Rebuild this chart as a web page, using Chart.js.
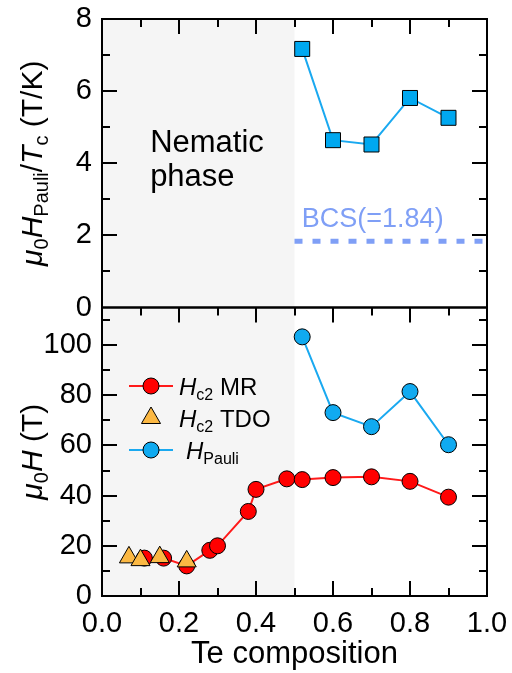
<!DOCTYPE html>
<html>
<head>
<meta charset="utf-8">
<script src="https://cdn.jsdelivr.net/npm/chart.js@4.4.1/dist/chart.umd.min.js"></script>
<style>
html,body{margin:0;padding:0;background:#fff;}
#wrap{width:512px;height:673px;position:relative;}
</style>
</head>
<body>
<div id="wrap"><canvas id="c" width="512" height="673"></canvas></div>
<script>
// ---- data ----
const teMR = [0.11, 0.16, 0.22, 0.28, 0.30, 0.38, 0.40, 0.48, 0.52, 0.60, 0.70, 0.80, 0.90];
const hc2MR = [15.1, 15.1, 12.0, 18.2, 20.0, 33.7, 42.5, 46.7, 46.4, 47.2, 47.5, 45.7, 39.4];
const teTDO = [0.07, 0.10, 0.15, 0.22];
const hc2TDO = [15.4, 14.3, 15.5, 13.8];
const tePauli = [0.52, 0.60, 0.70, 0.80, 0.90];
const hPauli = [103.3, 73.1, 67.5, 81.5, 60.3];
const pauliOverTc = [7.17, 4.64, 4.52, 5.81, 5.26];
const bcsRange = [0.5, 1.0];
const bcsValue = 1.84;
const nematicRange = [0.0, 0.5];
const xTickValues = [0.0, 0.2, 0.4, 0.6, 0.8, 1.0];

const FONT = '"Liberation Sans", Arial, Helvetica, sans-serif';
const pts = (xs, ys) => xs.map((x, i) => ({x, y: ys[i]}));

// ---- helpers ----
function f(size, italic){ return (italic ? 'italic ' : '') + size + 'px ' + FONT; }
function richWidth(ctx, segs){ let w = 0; for (const s of segs){ ctx.font = s.font; w += ctx.measureText(s.t).width; } return w; }
function drawRich(ctx, segs, x, y){
  for (const s of segs){ ctx.font = s.font; ctx.fillText(s.t, x, y + (s.dy || 0)); x += ctx.measureText(s.t).width; }
}

const panelPlugin = {
  id: 'panels',
  beforeDatasetsDraw(chart){
    const ctx = chart.ctx, xs = chart.scales.x;
    const ca = chart.chartArea;
    ctx.save();
    ctx.fillStyle = '#f5f5f5';
    const x0 = xs.getPixelForValue(nematicRange[0]), x1 = xs.getPixelForValue(nematicRange[1]);
    ctx.fillRect(x0, ca.top, x1 - x0, ca.bottom - ca.top);
    // annotations
    const yt = chart.scales.yTop;
    ctx.fillStyle = '#000';
    ctx.font = f(31);
    ctx.textBaseline = 'alphabetic';
    ctx.textAlign = 'left';
    ctx.fillText('Nematic', xs.getPixelForValue(0.125), yt.getPixelForValue(4.3));
    ctx.fillText('phase', xs.getPixelForValue(0.125), yt.getPixelForValue(3.36));
    ctx.fillStyle = '#7f9ff6';
    ctx.font = f(27);
    ctx.fillText('BCS(=1.84)', xs.getPixelForValue(0.519), yt.getPixelForValue(2.23));
    ctx.restore();
  },
  afterDraw(chart){
    const ctx = chart.ctx, xs = chart.scales.x;
    const yt = chart.scales.yTop, yb = chart.scales.yBot;
    const L = xs.left, R = xs.right;
    ctx.save();
    ctx.strokeStyle = '#000';
    ctx.lineWidth = 2;
    const MAJ = 15, MIN = 8;
    for (const [sc, step, majStep, topTicks, botTicks] of [[yt, 1, 2, true, false], [yb, 10, 20, true, true]]){
      const T = sc.top, B = sc.bottom;
      ctx.strokeRect(L, T, R - L, B - T);
      ctx.beginPath();
      for (let i = 0; sc.min + i * step <= sc.max + 1e-9; i++){
        const v = sc.min + i * step;
        const y = Math.round(sc.getPixelForValue(v));
        if (Math.abs(y - T) < 2 || Math.abs(y - B) < 2) continue;
        const len = (Math.round(v) % majStep === 0) ? MAJ : MIN;
        ctx.moveTo(L, y); ctx.lineTo(L + len, y);
        ctx.moveTo(R, y); ctx.lineTo(R - len, y);
      }
      for (let k = 1; k < 10; k++){
        const x = Math.round(xs.getPixelForValue(k / 10));
        const len = (k % 2 === 0) ? MAJ : MIN;
        if (topTicks){ ctx.moveTo(x, T); ctx.lineTo(x, T + len); }
        if (botTicks){ ctx.moveTo(x, B); ctx.lineTo(x, B - len); }
      }
      ctx.stroke();
    }
    // y titles
    ctx.fillStyle = '#000';
    ctx.textBaseline = 'alphabetic';
    ctx.textAlign = 'left';
    const topTitle = [
      {t:'μ', font:f(30, true)}, {t:'0', font:f(20), dy:6}, {t:'H', font:f(30, true)},
      {t:'Pauli', font:f(20), dy:6}, {t:'/', font:f(30)}, {t:'T', font:f(30, true)},
      {t:'c', font:f(20), dy:6}, {t:' (T/K)', font:f(30)}
    ];
    const botTitle = [
      {t:'μ', font:f(30, true)}, {t:'0', font:f(20), dy:6}, {t:'H', font:f(30, true)}, {t:' (T)', font:f(30)}
    ];
    for (const [segs, sc] of [[topTitle, yt], [botTitle, yb]]){
      const w = richWidth(ctx, segs);
      ctx.save();
      ctx.translate(42, (sc.top + sc.bottom) / 2);
      ctx.rotate(-Math.PI / 2);
      drawRich(ctx, segs, -w / 2, 0);
      ctx.restore();
    }
    // legend
    const lx = L + 27, ly0 = yb.getPixelForValue(0) - 210, dy = 32;
    const rows = [
      {line:'#ff1a1a', fill:'#ff0000', style:'circle', segs:[{t:'H', font:f(24, true)}, {t:'c2', font:f(16), dy:5}, {t:' MR', font:f(24)}], off:0},
      {line:null, fill:'#fbb843', style:'triangle', segs:[{t:'H', font:f(24, true)}, {t:'c2', font:f(16), dy:5}, {t:' TDO', font:f(24)}], off:0},
      {line:'#1aa9f0', fill:'#10aaf0', style:'circle', segs:[{t:'H', font:f(24, true)}, {t:'Pauli', font:f(16), dy:5}], off:7}
    ];
    rows.forEach((r, i) => {
      const y = ly0 + i * dy;
      if (r.line){
        ctx.strokeStyle = r.line; ctx.lineWidth = 2;
        ctx.beginPath(); ctx.moveTo(lx, y); ctx.lineTo(lx + 44, y); ctx.stroke();
      }
      ctx.fillStyle = r.fill; ctx.strokeStyle = '#000'; ctx.lineWidth = 1;
      Chart.helpers.drawPoint(ctx, {pointStyle: r.style, radius: r.style === 'triangle' ? 11 : 8, rotation: 0, borderWidth: 1}, lx + 22, y);
      ctx.fillStyle = '#000';
      drawRich(ctx, r.segs, lx + 50 + r.off, y + 9);
    });
    ctx.restore();
  }
};

const tickFont = {family: FONT, size: 29, lineHeight: 1};
const hiddenGrid = {display:false, drawTicks:true, tickLength:8};

new Chart(document.getElementById('c'), {
  type: 'scatter',
  data: {
    datasets: [
      {label:'Hc2 TDO', data: pts(teTDO, hc2TDO), yAxisID:'yBot', showLine:false,
       pointStyle:'triangle', pointRadius:11, backgroundColor:'#fbb843', borderColor:'#000', borderWidth:1},
      {label:'Hc2 MR', data: pts(teMR, hc2MR), yAxisID:'yBot', showLine:true,
       borderColor:'#ff1a1a', pointBorderColor:'#000', pointBackgroundColor:'#ff0000', pointBorderWidth:1,
       borderWidth:2, pointRadius:8, pointStyle:'circle'},
      {label:'HPauli', data: pts(tePauli, hPauli), yAxisID:'yBot', showLine:true,
       borderColor:'#1aa9f0', pointBorderColor:'#000', pointBackgroundColor:'#10aaf0', pointBorderWidth:1,
       borderWidth:2, pointRadius:8, pointStyle:'circle'},
      {label:'HPauli/Tc', data: pts(tePauli, pauliOverTc), yAxisID:'yTop', showLine:true,
       borderColor:'#1aa9f0', pointBorderColor:'#000', pointBackgroundColor:'#00a8f0', pointBorderWidth:1,
       borderWidth:2, pointRadius:10.6, pointStyle:'rect'},
      {label:'BCS', data: bcsRange.map(x => ({x, y: bcsValue})), yAxisID:'yTop', showLine:true,
       borderColor:'#7f9ff6', borderWidth:5, borderDash:[8,10], borderCapStyle:'butt', pointRadius:0}
    ]
  },
  options: {
    responsive: false,
    animation: false,
    devicePixelRatio: 1,
    layout: {padding: {left: 0, right: 25, top: 19, bottom: 0}},
    plugins: {legend: {display: false}, tooltip: {enabled: false}},
    scales: {
      x: {type:'linear', position:'bottom', min:0, max:1,
          afterBuildTicks(s){ s.ticks = xTickValues.map(v => ({value: v})); },
          ticks:{font: tickFont, color:'#000', padding: 2, maxRotation:0, autoSkip:false, callback: v => Number(v).toFixed(1)},
          grid: {display:false, drawTicks:true, tickLength:11}, border:{display:false},
          title:{display:true, text:'Te composition', font:{family: FONT, size: 31}, color:'#000', padding:{top:0, bottom:0}},
          afterFit(s){ s.height = 77; }},
      yBot: {type:'linear', position:'left', stack:'panels', stackWeight:1, min:0, max:115,
          ticks:{font: tickFont, color:'#000', padding: 2, stepSize: 20, includeBounds:false, autoSkip:false},
          grid: hiddenGrid, border:{display:false},
          afterFit(s){ s.width = 102; }},
      yTop: {type:'linear', position:'left', stack:'panels', stackWeight:1, min:0, max:8,
          ticks:{font: tickFont, color:'#000', padding: 2, stepSize: 2, autoSkip:false},
          grid: hiddenGrid, border:{display:false},
          afterFit(s){ s.width = 102; }}
    }
  },
  plugins: [panelPlugin]
});
</script>
</body>
</html>
